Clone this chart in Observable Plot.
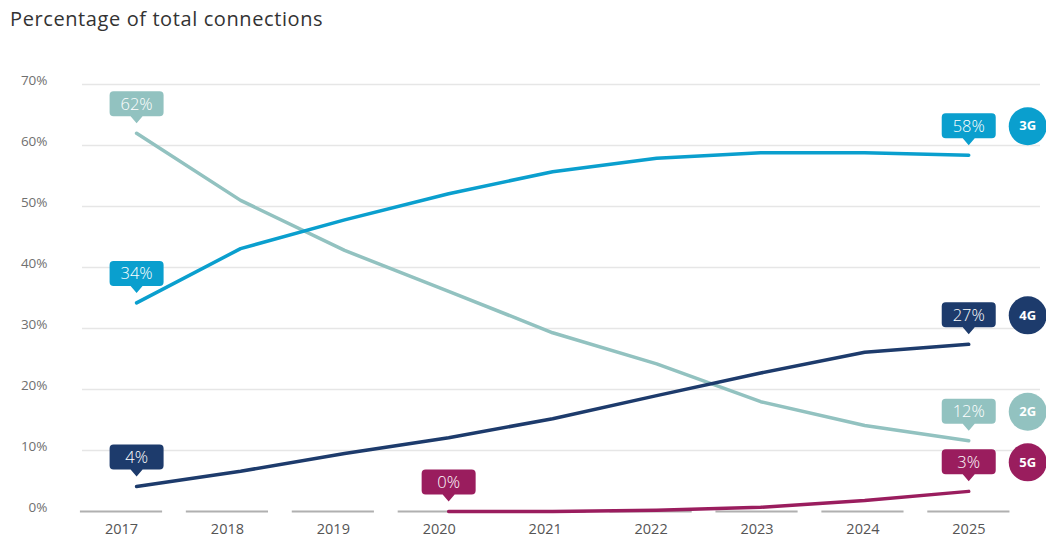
<!DOCTYPE html>
<html>
<head>
<meta charset="utf-8">
<script src="https://cdn.jsdelivr.net/npm/d3@7"></script>
<script src="https://cdn.jsdelivr.net/npm/@observablehq/plot@0.6"></script>
<style>
  body { margin: 0; background: #fff; font-family: "Open Sans", sans-serif; }
  #title { height: 40px; padding-left: 10px; font-size: 20px; letter-spacing: 0.6px; line-height: 38px; color: #333; }
</style>
</head>
<body>
<div id="title">Percentage of total connections</div>
<div id="chart"></div>
<script>
const years = [2017, 2018, 2019, 2020, 2021, 2022, 2023, 2024, 2025];
const seriesNames = ["2G", "3G", "4G", "5G"];
const seriesColors = ["#92c2c0", "#0a9fce", "#1d3b6c", "#9a1d5e"];
const g2 = [62, 51, 42.8, 36.1, 29.3, 24.2, 18, 14.1, 11.6];
const g3 = [34.2, 43.1, 47.8, 52.1, 55.7, 57.9, 58.8, 58.8, 58.4];
const g4 = [4.1, 6.6, 9.5, 12.1, 15.2, 19, 22.7, 26.1, 27.4];
const g5 = [null, null, null, 0, 0, 0.2, 0.7, 1.8, 3.3];
const yTicks = [0, 10, 20, 30, 40, 50, 60, 70];

const valuesBySeries = {"2G": g2, "3G": g3, "4G": g4, "5G": g5};
const rows = [];
for (const s of seriesNames) {
  valuesBySeries[s].forEach((v, i) => { if (v != null) rows.push({year: years[i], series: s, value: v}); });
}
const firsts = seriesNames.map(s => rows.find(d => d.series === s));
const lasts = seriesNames.map(s => rows.filter(d => d.series === s).at(-1));
const callouts = [...firsts, ...lasts];

// the category axis (labels + baseline segments) is laid out slightly wider than the data points
const axisPos = y => y - 0.145 + (y - 2017) * 0.0183;

const calloutSymbol = {
  draw(ctx) {
    const w = 27, top = -42, bot = -17, r = 4, tip = -10, pw = 6;
    ctx.moveTo(-w + r, top);
    ctx.lineTo(w - r, top);
    ctx.arcTo(w, top, w, top + r, r);
    ctx.lineTo(w, bot - r);
    ctx.arcTo(w, bot, w - r, bot, r);
    ctx.lineTo(pw, bot);
    ctx.lineTo(0, tip);
    ctx.lineTo(-pw, bot);
    ctx.lineTo(-w + r, bot);
    ctx.arcTo(-w, bot, -w, bot - r, r);
    ctx.lineTo(-w, top + r);
    ctx.arcTo(-w, top, -w + r, top, r);
    ctx.closePath();
  }
};

const chart = Plot.plot({
  width: 1046,
  height: 500,
  marginTop: 44,
  marginBottom: 29,
  marginLeft: 82,
  marginRight: 6,
  style: {fontFamily: "Open Sans, sans-serif", background: "#fff"},
  x: {domain: [2016.48, 2025.69], axis: null},
  y: {domain: [0, 70], axis: null},
  color: {domain: seriesNames, range: seriesColors},
  marks: [
    Plot.ruleY(yTicks.filter(d => d > 0), {stroke: "#e6e6e6", strokeWidth: 1.5}),
    Plot.ruleY(years, {y: 0, x1: d => axisPos(d) - 0.395, x2: d => axisPos(d) + 0.395, stroke: "#b0b0b0", strokeWidth: 2}),
    Plot.text(yTicks, {x: 2016.48, y: d => d, text: d => d + "%", textAnchor: "end", dx: -35, dy: -4, fill: "#707070", fontSize: 13.5}),
    Plot.text(years, {x: d => axisPos(d), y: 0, text: d => String(d), dy: 18, fill: "#555", fontSize: 14.5}),
    Plot.line(rows, {x: "year", y: "value", z: "series", stroke: "series", strokeWidth: 3.5, strokeLinecap: "round", curve: "linear"}),
    Plot.dot(callouts, {x: "year", y: "value", fill: "series", symbol: calloutSymbol, stroke: null}),
    Plot.text(callouts, {x: "year", y: "value", text: d => Math.round(d.value) + "%", fill: "white", dy: -29, fontSize: 16.5, fontWeight: 300}),
    Plot.dot(lasts, {x: "year", y: "value", fill: "series", r: 19, dx: 59, dy: -29}),
    Plot.text(lasts, {x: "year", y: "value", text: "series", fill: "white", fontWeight: "bold", fontSize: 13, dx: 59, dy: -29})
  ]
});
document.getElementById("chart").appendChild(chart);
</script>
</body>
</html>
